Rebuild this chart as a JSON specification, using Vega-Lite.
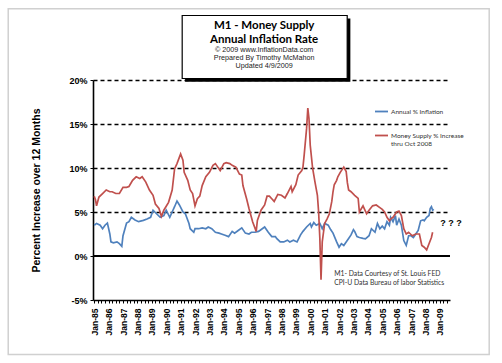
{
  "$schema": "https://vega.github.io/schema/vega-lite/v6.json",
  "width": 357,
  "height": 220,
  "autosize": "none",
  "padding": {"left": 93, "top": 80, "right": 52, "bottom": 63},
  "background": "white",
  "config": {"view": {"stroke": null}},
  "datasets": {
    "series": [
      {"date": "1985-01-01", "series": "Annual % Inflation", "value": 3.5},
      {"date": "1985-03-01", "series": "Annual % Inflation", "value": 3.7},
      {"date": "1985-06-01", "series": "Annual % Inflation", "value": 3.5},
      {"date": "1985-08-01", "series": "Annual % Inflation", "value": 3.1},
      {"date": "1985-10-01", "series": "Annual % Inflation", "value": 3.5},
      {"date": "1985-12-01", "series": "Annual % Inflation", "value": 3.75},
      {"date": "1986-02-01", "series": "Annual % Inflation", "value": 2.5},
      {"date": "1986-03-01", "series": "Annual % Inflation", "value": 1.6},
      {"date": "1986-05-01", "series": "Annual % Inflation", "value": 1.5},
      {"date": "1986-08-01", "series": "Annual % Inflation", "value": 1.6},
      {"date": "1986-10-01", "series": "Annual % Inflation", "value": 1.4},
      {"date": "1986-12-01", "series": "Annual % Inflation", "value": 1.1},
      {"date": "1987-01-01", "series": "Annual % Inflation", "value": 2.3},
      {"date": "1987-04-01", "series": "Annual % Inflation", "value": 3.75},
      {"date": "1987-06-01", "series": "Annual % Inflation", "value": 3.9},
      {"date": "1987-08-01", "series": "Annual % Inflation", "value": 4.4},
      {"date": "1987-11-01", "series": "Annual % Inflation", "value": 4.1},
      {"date": "1988-02-01", "series": "Annual % Inflation", "value": 3.9},
      {"date": "1988-06-01", "series": "Annual % Inflation", "value": 4.05},
      {"date": "1988-09-01", "series": "Annual % Inflation", "value": 4.2},
      {"date": "1988-12-01", "series": "Annual % Inflation", "value": 4.4},
      {"date": "1989-02-01", "series": "Annual % Inflation", "value": 5.2},
      {"date": "1989-05-01", "series": "Annual % Inflation", "value": 4.8},
      {"date": "1989-08-01", "series": "Annual % Inflation", "value": 4.4},
      {"date": "1989-11-01", "series": "Annual % Inflation", "value": 4.6},
      {"date": "1990-01-01", "series": "Annual % Inflation", "value": 5.2},
      {"date": "1990-04-01", "series": "Annual % Inflation", "value": 4.4},
      {"date": "1990-06-01", "series": "Annual % Inflation", "value": 5.0},
      {"date": "1990-08-01", "series": "Annual % Inflation", "value": 5.6},
      {"date": "1990-10-01", "series": "Annual % Inflation", "value": 6.25},
      {"date": "1990-12-01", "series": "Annual % Inflation", "value": 5.8},
      {"date": "1991-03-01", "series": "Annual % Inflation", "value": 5.0},
      {"date": "1991-05-01", "series": "Annual % Inflation", "value": 4.8},
      {"date": "1991-08-01", "series": "Annual % Inflation", "value": 3.7},
      {"date": "1991-09-01", "series": "Annual % Inflation", "value": 3.1},
      {"date": "1991-12-01", "series": "Annual % Inflation", "value": 2.7},
      {"date": "1992-01-01", "series": "Annual % Inflation", "value": 3.1},
      {"date": "1992-04-01", "series": "Annual % Inflation", "value": 3.1},
      {"date": "1992-07-01", "series": "Annual % Inflation", "value": 3.2},
      {"date": "1992-10-01", "series": "Annual % Inflation", "value": 3.1},
      {"date": "1992-12-01", "series": "Annual % Inflation", "value": 3.3},
      {"date": "1993-03-01", "series": "Annual % Inflation", "value": 3.1},
      {"date": "1993-06-01", "series": "Annual % Inflation", "value": 2.7},
      {"date": "1993-09-01", "series": "Annual % Inflation", "value": 2.6},
      {"date": "1993-11-01", "series": "Annual % Inflation", "value": 2.5},
      {"date": "1994-02-01", "series": "Annual % Inflation", "value": 2.35},
      {"date": "1994-05-01", "series": "Annual % Inflation", "value": 2.2},
      {"date": "1994-08-01", "series": "Annual % Inflation", "value": 2.8},
      {"date": "1994-10-01", "series": "Annual % Inflation", "value": 2.6},
      {"date": "1995-01-01", "series": "Annual % Inflation", "value": 2.9},
      {"date": "1995-04-01", "series": "Annual % Inflation", "value": 3.2},
      {"date": "1995-07-01", "series": "Annual % Inflation", "value": 2.6},
      {"date": "1995-10-01", "series": "Annual % Inflation", "value": 2.5},
      {"date": "1995-12-01", "series": "Annual % Inflation", "value": 2.7},
      {"date": "1996-03-01", "series": "Annual % Inflation", "value": 2.7},
      {"date": "1996-06-01", "series": "Annual % Inflation", "value": 2.8},
      {"date": "1996-09-01", "series": "Annual % Inflation", "value": 3.1},
      {"date": "1996-11-01", "series": "Annual % Inflation", "value": 3.3},
      {"date": "1997-02-01", "series": "Annual % Inflation", "value": 2.7},
      {"date": "1997-05-01", "series": "Annual % Inflation", "value": 2.2},
      {"date": "1997-08-01", "series": "Annual % Inflation", "value": 2.2},
      {"date": "1997-09-01", "series": "Annual % Inflation", "value": 2.0},
      {"date": "1997-12-01", "series": "Annual % Inflation", "value": 1.6},
      {"date": "1998-03-01", "series": "Annual % Inflation", "value": 1.6},
      {"date": "1998-06-01", "series": "Annual % Inflation", "value": 1.8},
      {"date": "1998-08-01", "series": "Annual % Inflation", "value": 1.6},
      {"date": "1998-11-01", "series": "Annual % Inflation", "value": 1.8},
      {"date": "1999-02-01", "series": "Annual % Inflation", "value": 1.6},
      {"date": "1999-05-01", "series": "Annual % Inflation", "value": 2.4},
      {"date": "1999-07-01", "series": "Annual % Inflation", "value": 2.8},
      {"date": "1999-10-01", "series": "Annual % Inflation", "value": 3.3},
      {"date": "2000-01-01", "series": "Annual % Inflation", "value": 3.7},
      {"date": "2000-02-01", "series": "Annual % Inflation", "value": 3.3},
      {"date": "2000-04-01", "series": "Annual % Inflation", "value": 3.8},
      {"date": "2000-06-01", "series": "Annual % Inflation", "value": 3.5},
      {"date": "2000-09-01", "series": "Annual % Inflation", "value": 3.7},
      {"date": "2000-11-01", "series": "Annual % Inflation", "value": 3.1},
      {"date": "2001-01-01", "series": "Annual % Inflation", "value": 3.7},
      {"date": "2001-04-01", "series": "Annual % Inflation", "value": 3.5},
      {"date": "2001-06-01", "series": "Annual % Inflation", "value": 3.0},
      {"date": "2001-08-01", "series": "Annual % Inflation", "value": 2.6},
      {"date": "2001-11-01", "series": "Annual % Inflation", "value": 1.6},
      {"date": "2002-01-01", "series": "Annual % Inflation", "value": 1.0},
      {"date": "2002-03-01", "series": "Annual % Inflation", "value": 1.4},
      {"date": "2002-05-01", "series": "Annual % Inflation", "value": 1.2},
      {"date": "2002-07-01", "series": "Annual % Inflation", "value": 1.6},
      {"date": "2002-09-01", "series": "Annual % Inflation", "value": 2.0},
      {"date": "2002-11-01", "series": "Annual % Inflation", "value": 2.4},
      {"date": "2003-01-01", "series": "Annual % Inflation", "value": 3.0},
      {"date": "2003-02-01", "series": "Annual % Inflation", "value": 2.8},
      {"date": "2003-04-01", "series": "Annual % Inflation", "value": 2.2},
      {"date": "2003-06-01", "series": "Annual % Inflation", "value": 2.1},
      {"date": "2003-09-01", "series": "Annual % Inflation", "value": 2.0},
      {"date": "2003-11-01", "series": "Annual % Inflation", "value": 1.95},
      {"date": "2004-02-01", "series": "Annual % Inflation", "value": 2.3},
      {"date": "2004-04-01", "series": "Annual % Inflation", "value": 3.1},
      {"date": "2004-07-01", "series": "Annual % Inflation", "value": 2.7},
      {"date": "2004-09-01", "series": "Annual % Inflation", "value": 3.7},
      {"date": "2004-11-01", "series": "Annual % Inflation", "value": 3.1},
      {"date": "2005-01-01", "series": "Annual % Inflation", "value": 3.4},
      {"date": "2005-03-01", "series": "Annual % Inflation", "value": 3.1},
      {"date": "2005-05-01", "series": "Annual % Inflation", "value": 3.9},
      {"date": "2005-07-01", "series": "Annual % Inflation", "value": 3.5},
      {"date": "2005-08-01", "series": "Annual % Inflation", "value": 4.4},
      {"date": "2005-10-01", "series": "Annual % Inflation", "value": 3.9},
      {"date": "2005-12-01", "series": "Annual % Inflation", "value": 4.6},
      {"date": "2006-01-01", "series": "Annual % Inflation", "value": 3.5},
      {"date": "2006-03-01", "series": "Annual % Inflation", "value": 4.2},
      {"date": "2006-05-01", "series": "Annual % Inflation", "value": 3.5},
      {"date": "2006-07-01", "series": "Annual % Inflation", "value": 1.75},
      {"date": "2006-09-01", "series": "Annual % Inflation", "value": 1.2},
      {"date": "2006-11-01", "series": "Annual % Inflation", "value": 2.3},
      {"date": "2007-01-01", "series": "Annual % Inflation", "value": 2.3},
      {"date": "2007-03-01", "series": "Annual % Inflation", "value": 2.1},
      {"date": "2007-05-01", "series": "Annual % Inflation", "value": 2.5},
      {"date": "2007-07-01", "series": "Annual % Inflation", "value": 2.9},
      {"date": "2007-09-01", "series": "Annual % Inflation", "value": 4.0},
      {"date": "2007-11-01", "series": "Annual % Inflation", "value": 4.1},
      {"date": "2007-12-01", "series": "Annual % Inflation", "value": 4.0},
      {"date": "2008-02-01", "series": "Annual % Inflation", "value": 4.4},
      {"date": "2008-04-01", "series": "Annual % Inflation", "value": 4.6},
      {"date": "2008-05-01", "series": "Annual % Inflation", "value": 5.4},
      {"date": "2008-06-01", "series": "Annual % Inflation", "value": 5.6},
      {"date": "2008-07-01", "series": "Annual % Inflation", "value": 5.2},
      {"date": "2008-08-01", "series": "Annual % Inflation", "value": 5.3},

      {"date": "1985-01-01", "series": "Money Supply % Increase", "value": 6.8},
      {"date": "1985-02-01", "series": "Money Supply % Increase", "value": 6.4},
      {"date": "1985-03-01", "series": "Money Supply % Increase", "value": 5.7},
      {"date": "1985-05-01", "series": "Money Supply % Increase", "value": 6.7},
      {"date": "1985-08-01", "series": "Money Supply % Increase", "value": 7.1},
      {"date": "1985-11-01", "series": "Money Supply % Increase", "value": 7.5},
      {"date": "1986-02-01", "series": "Money Supply % Increase", "value": 7.3},
      {"date": "1986-04-01", "series": "Money Supply % Increase", "value": 7.3},
      {"date": "1986-07-01", "series": "Money Supply % Increase", "value": 7.1},
      {"date": "1986-10-01", "series": "Money Supply % Increase", "value": 7.1},
      {"date": "1987-01-01", "series": "Money Supply % Increase", "value": 7.8},
      {"date": "1987-04-01", "series": "Money Supply % Increase", "value": 7.8},
      {"date": "1987-06-01", "series": "Money Supply % Increase", "value": 7.9},
      {"date": "1987-09-01", "series": "Money Supply % Increase", "value": 8.6},
      {"date": "1987-12-01", "series": "Money Supply % Increase", "value": 9.0},
      {"date": "1988-03-01", "series": "Money Supply % Increase", "value": 8.8},
      {"date": "1988-05-01", "series": "Money Supply % Increase", "value": 9.0},
      {"date": "1988-08-01", "series": "Money Supply % Increase", "value": 8.4},
      {"date": "1988-11-01", "series": "Money Supply % Increase", "value": 7.5},
      {"date": "1989-02-01", "series": "Money Supply % Increase", "value": 6.9},
      {"date": "1989-04-01", "series": "Money Supply % Increase", "value": 5.9},
      {"date": "1989-07-01", "series": "Money Supply % Increase", "value": 5.4},
      {"date": "1989-09-01", "series": "Money Supply % Increase", "value": 4.5},
      {"date": "1989-11-01", "series": "Money Supply % Increase", "value": 5.2},
      {"date": "1990-03-01", "series": "Money Supply % Increase", "value": 6.1},
      {"date": "1990-06-01", "series": "Money Supply % Increase", "value": 7.5},
      {"date": "1990-08-01", "series": "Money Supply % Increase", "value": 9.9},
      {"date": "1990-10-01", "series": "Money Supply % Increase", "value": 10.5},
      {"date": "1991-01-01", "series": "Money Supply % Increase", "value": 11.6},
      {"date": "1991-03-01", "series": "Money Supply % Increase", "value": 10.9},
      {"date": "1991-04-01", "series": "Money Supply % Increase", "value": 9.5},
      {"date": "1991-07-01", "series": "Money Supply % Increase", "value": 8.6},
      {"date": "1991-09-01", "series": "Money Supply % Increase", "value": 7.5},
      {"date": "1991-11-01", "series": "Money Supply % Increase", "value": 7.1},
      {"date": "1992-01-01", "series": "Money Supply % Increase", "value": 5.7},
      {"date": "1992-03-01", "series": "Money Supply % Increase", "value": 6.5},
      {"date": "1992-05-01", "series": "Money Supply % Increase", "value": 6.8},
      {"date": "1992-07-01", "series": "Money Supply % Increase", "value": 8.0},
      {"date": "1992-10-01", "series": "Money Supply % Increase", "value": 9.0},
      {"date": "1993-01-01", "series": "Money Supply % Increase", "value": 9.5},
      {"date": "1993-04-01", "series": "Money Supply % Increase", "value": 10.3},
      {"date": "1993-06-01", "series": "Money Supply % Increase", "value": 10.5},
      {"date": "1993-08-01", "series": "Money Supply % Increase", "value": 10.1},
      {"date": "1993-10-01", "series": "Money Supply % Increase", "value": 9.7},
      {"date": "1994-01-01", "series": "Money Supply % Increase", "value": 10.5},
      {"date": "1994-03-01", "series": "Money Supply % Increase", "value": 10.6},
      {"date": "1994-06-01", "series": "Money Supply % Increase", "value": 10.5},
      {"date": "1994-08-01", "series": "Money Supply % Increase", "value": 10.3},
      {"date": "1994-11-01", "series": "Money Supply % Increase", "value": 10.1},
      {"date": "1995-02-01", "series": "Money Supply % Increase", "value": 9.3},
      {"date": "1995-04-01", "series": "Money Supply % Increase", "value": 9.2},
      {"date": "1995-05-01", "series": "Money Supply % Increase", "value": 8.0},
      {"date": "1995-08-01", "series": "Money Supply % Increase", "value": 6.5},
      {"date": "1995-10-01", "series": "Money Supply % Increase", "value": 5.4},
      {"date": "1996-01-01", "series": "Money Supply % Increase", "value": 3.9},
      {"date": "1996-04-01", "series": "Money Supply % Increase", "value": 2.8},
      {"date": "1996-05-01", "series": "Money Supply % Increase", "value": 4.05},
      {"date": "1996-08-01", "series": "Money Supply % Increase", "value": 5.2},
      {"date": "1996-11-01", "series": "Money Supply % Increase", "value": 5.8},
      {"date": "1997-01-01", "series": "Money Supply % Increase", "value": 6.8},
      {"date": "1997-03-01", "series": "Money Supply % Increase", "value": 6.8},
      {"date": "1997-05-01", "series": "Money Supply % Increase", "value": 6.5},
      {"date": "1997-07-01", "series": "Money Supply % Increase", "value": 6.2},
      {"date": "1997-10-01", "series": "Money Supply % Increase", "value": 7.0},
      {"date": "1998-01-01", "series": "Money Supply % Increase", "value": 6.9},
      {"date": "1998-04-01", "series": "Money Supply % Increase", "value": 6.6},
      {"date": "1998-06-01", "series": "Money Supply % Increase", "value": 7.1},
      {"date": "1998-09-01", "series": "Money Supply % Increase", "value": 7.9},
      {"date": "1998-10-01", "series": "Money Supply % Increase", "value": 7.3},
      {"date": "1999-01-01", "series": "Money Supply % Increase", "value": 8.1},
      {"date": "1999-03-01", "series": "Money Supply % Increase", "value": 9.2},
      {"date": "1999-06-01", "series": "Money Supply % Increase", "value": 9.7},
      {"date": "1999-07-01", "series": "Money Supply % Increase", "value": 10.1},
      {"date": "1999-08-01", "series": "Money Supply % Increase", "value": 11.5},
      {"date": "1999-10-01", "series": "Money Supply % Increase", "value": 14.5},
      {"date": "1999-11-01", "series": "Money Supply % Increase", "value": 16.8},
      {"date": "1999-12-01", "series": "Money Supply % Increase", "value": 15.6},
      {"date": "2000-01-01", "series": "Money Supply % Increase", "value": 12.6},
      {"date": "2000-03-01", "series": "Money Supply % Increase", "value": 10.0},
      {"date": "2000-05-01", "series": "Money Supply % Increase", "value": 8.4},
      {"date": "2000-07-01", "series": "Money Supply % Increase", "value": 6.9},
      {"date": "2000-08-01", "series": "Money Supply % Increase", "value": 5.0},
      {"date": "2000-09-01", "series": "Money Supply % Increase", "value": 2.0},
      {"date": "2000-10-01", "series": "Money Supply % Increase", "value": -2.7},
      {"date": "2000-11-01", "series": "Money Supply % Increase", "value": 1.6},
      {"date": "2001-01-01", "series": "Money Supply % Increase", "value": 3.7},
      {"date": "2001-03-01", "series": "Money Supply % Increase", "value": 4.2},
      {"date": "2001-05-01", "series": "Money Supply % Increase", "value": 4.8},
      {"date": "2001-07-01", "series": "Money Supply % Increase", "value": 6.2},
      {"date": "2001-08-01", "series": "Money Supply % Increase", "value": 7.3},
      {"date": "2001-09-01", "series": "Money Supply % Increase", "value": 8.1},
      {"date": "2001-11-01", "series": "Money Supply % Increase", "value": 8.6},
      {"date": "2001-12-01", "series": "Money Supply % Increase", "value": 9.0},
      {"date": "2002-02-01", "series": "Money Supply % Increase", "value": 9.5},
      {"date": "2002-04-01", "series": "Money Supply % Increase", "value": 9.9},
      {"date": "2002-05-01", "series": "Money Supply % Increase", "value": 10.1},
      {"date": "2002-07-01", "series": "Money Supply % Increase", "value": 9.6},
      {"date": "2002-08-01", "series": "Money Supply % Increase", "value": 8.3},
      {"date": "2002-09-01", "series": "Money Supply % Increase", "value": 7.5},
      {"date": "2002-11-01", "series": "Money Supply % Increase", "value": 7.3},
      {"date": "2003-02-01", "series": "Money Supply % Increase", "value": 6.9},
      {"date": "2003-05-01", "series": "Money Supply % Increase", "value": 6.55},
      {"date": "2003-06-01", "series": "Money Supply % Increase", "value": 5.0},
      {"date": "2003-09-01", "series": "Money Supply % Increase", "value": 5.7},
      {"date": "2003-12-01", "series": "Money Supply % Increase", "value": 4.8},
      {"date": "2004-02-01", "series": "Money Supply % Increase", "value": 5.2},
      {"date": "2004-05-01", "series": "Money Supply % Increase", "value": 5.7},
      {"date": "2004-08-01", "series": "Money Supply % Increase", "value": 5.8},
      {"date": "2004-11-01", "series": "Money Supply % Increase", "value": 5.5},
      {"date": "2005-01-01", "series": "Money Supply % Increase", "value": 5.3},
      {"date": "2005-03-01", "series": "Money Supply % Increase", "value": 5.0},
      {"date": "2005-05-01", "series": "Money Supply % Increase", "value": 4.4},
      {"date": "2005-07-01", "series": "Money Supply % Increase", "value": 4.0},
      {"date": "2005-08-01", "series": "Money Supply % Increase", "value": 4.2},
      {"date": "2005-10-01", "series": "Money Supply % Increase", "value": 4.4},
      {"date": "2006-01-01", "series": "Money Supply % Increase", "value": 5.0},
      {"date": "2006-03-01", "series": "Money Supply % Increase", "value": 5.1},
      {"date": "2006-05-01", "series": "Money Supply % Increase", "value": 4.6},
      {"date": "2006-07-01", "series": "Money Supply % Increase", "value": 3.1},
      {"date": "2006-09-01", "series": "Money Supply % Increase", "value": 2.5},
      {"date": "2006-11-01", "series": "Money Supply % Increase", "value": 2.7},
      {"date": "2007-02-01", "series": "Money Supply % Increase", "value": 2.3},
      {"date": "2007-05-01", "series": "Money Supply % Increase", "value": 2.5},
      {"date": "2007-08-01", "series": "Money Supply % Increase", "value": 2.5},
      {"date": "2007-10-01", "series": "Money Supply % Increase", "value": 1.2},
      {"date": "2007-12-01", "series": "Money Supply % Increase", "value": 1.0},
      {"date": "2008-02-01", "series": "Money Supply % Increase", "value": 0.7},
      {"date": "2008-04-01", "series": "Money Supply % Increase", "value": 1.4},
      {"date": "2008-06-01", "series": "Money Supply % Increase", "value": 2.1},
      {"date": "2008-07-01", "series": "Money Supply % Increase", "value": 2.7}
    ],
    "heading": [
      {"text": "M1 - Money Supply\nAnnual Inflation Rate"}
    ],
    "credits": [
      {"text": "© 2009  www.InflationData.com\nPrepared By Timothy McMahon\nUpdated 4/9/2009"}
    ],
    "notes": [
      {"note": "M1- Data Courtesy of  St. Louis FED\nCPI-U  Data  Bureau of labor Statistics"}
    ],
    "marks": [
      {"note": "? ? ?"}
    ]
  },
  "encoding": {
    "x": {
      "type": "temporal",
      "scale": {"type": "utc", "domain": [{"year": 1984, "month": 12, "date": 1, "utc": true}, {"year": 2009, "month": 9, "date": 15, "utc": true}], "nice": false},
      "axis": {
        "title": null,
        "tickCount": {"interval": "month", "step": 3},
        "labelExpr": "utcmonth(datum.value) == 0 ? utcFormat(datum.value, '%b-%y') : ''",
        "labelAngle": 270,
        "labelAlign": "right",
        "labelBaseline": "middle",
        "labelFont": "Liberation Sans",
        "labelFontSize": 8.5,
        "labelFontWeight": "bold",
        "labelColor": "black",
        "labelPadding": 5,
        "labelOverlap": false,
        "labelFlush": false,
        "labelBound": false,
        "grid": false,
        "domainColor": "black",
        "domainWidth": 1.6,
        "ticks": true,
        "tickColor": "black",
        "tickSize": 3,
        "tickWidth": 1
      }
    },
    "y": {
      "type": "quantitative",
      "scale": {"domain": [-5, 20], "nice": false, "zero": false},
      "axis": {
        "title": "Percent Increase over 12 Months",
        "titleFont": "Liberation Sans",
        "titleFontSize": 10.5,
        "titleFontWeight": "bold",
        "titleColor": "black",
        "titlePadding": 27,
        "values": [-5, 0, 5, 10, 15, 20],
        "labelExpr": "datum.value + '%'",
        "labelFont": "Liberation Sans",
        "labelFontSize": 9,
        "labelFontWeight": "bold",
        "labelColor": "black",
        "labelPadding": 3,
        "domainColor": "black",
        "domainWidth": 1.6,
        "tickColor": "black",
        "tickSize": 3,
        "grid": true,
        "gridColor": "black",
        "gridWidth": 1.4,
        "gridDash": [4, 3],
        "gridOpacity": {"condition": {"test": "datum.value <= 0", "value": 0}, "value": 1}
      }
    }
  },
  "layer": [
    {
      "data": {"name": "marks"},
      "mark": {"type": "rect", "fill": null, "stroke": "#d0d0d0", "strokeWidth": 1.5},
      "encoding": {
        "x": {"datum": {"year": 1979, "month": 1, "date": 12, "utc": true}, "type": "temporal"},
        "x2": {"datum": {"year": 2012, "month": 6, "date": 5, "utc": true}},
        "y": {"datum": 28.1},
        "y2": {"datum": -11.2}
      }
    },
    {
      "data": {"name": "marks"},
      "mark": {"type": "rect", "fill": "black"},
      "encoding": {
        "x": {"datum": {"year": 1991, "month": 4, "date": 25, "utc": true}, "type": "temporal"},
        "x2": {"datum": {"year": 2002, "month": 10, "date": 15, "utc": true}},
        "y": {"datum": 27.0},
        "y2": {"datum": 19.8}
      }
    },
    {
      "data": {"name": "marks"},
      "mark": {"type": "rect", "fill": "white", "stroke": "black", "strokeWidth": 1.2},
      "encoding": {
        "x": {"datum": {"year": 1991, "month": 2, "date": 10, "utc": true}, "type": "temporal"},
        "x2": {"datum": {"year": 2002, "month": 7, "date": 27, "utc": true}},
        "y": {"datum": 27.33},
        "y2": {"datum": 20.17}
      }
    },
    {
      "data": {"name": "heading"},
      "mark": {"type": "text", "align": "center", "baseline": "alphabetic", "font": "Lato", "fontSize": 11.5, "fontWeight": "bold", "color": "black", "lineBreak": "\n", "lineHeight": 14},
      "encoding": {
        "x": {"datum": {"year": 1996, "month": 10, "date": 20, "utc": true}, "type": "temporal"},
        "y": {"datum": 25.85},
        "text": {"field": "text"}
      }
    },
    {
      "data": {"name": "credits"},
      "mark": {"type": "text", "align": "center", "baseline": "alphabetic", "font": "Liberation Sans", "fontSize": 7.2, "color": "#222", "lineBreak": "\n", "lineHeight": 8.2},
      "encoding": {
        "x": {"datum": {"year": 1996, "month": 10, "date": 20, "utc": true}, "type": "temporal"},
        "y": {"datum": 23.17},
        "text": {"field": "text"}
      }
    },
    {
      "data": {"name": "marks"},
      "mark": {"type": "rule", "color": "black", "strokeWidth": 2},
      "encoding": {"y": {"datum": 0}}
    },
    {
      "data": {"name": "series"},
      "mark": {"type": "line", "strokeWidth": 1.7},
      "encoding": {
        "x": {"field": "date", "type": "temporal"},
        "y": {"field": "value", "type": "quantitative"},
        "color": {
          "field": "series",
          "type": "nominal",
          "scale": {"domain": ["Annual % Inflation", "Money Supply % Increase"], "range": ["#4F81BD", "#C0504D"]},
          "legend": {
            "orient": "none",
            "legendX": 281,
            "legendY": 24,
            "direction": "vertical",
            "title": null,
            "symbolType": "stroke",
            "symbolSize": 170,
            "symbolStrokeWidth": 1.8,
            "labelFont": "Lato",
            "labelFontSize": 6.5,
            "labelColor": "#333",
            "labelOffset": 2,
            "rowPadding": 12,
            "labelExpr": "datum.label == 'Money Supply % Increase' ? ['Money Supply % Increase', 'thru Oct 2008'] : datum.label"
          }
        }
      }
    },
    {
      "data": {"name": "notes"},
      "mark": {"type": "text", "align": "left", "baseline": "top", "font": "Lato", "fontSize": 6.8, "color": "#333", "lineBreak": "\n", "lineHeight": 9.5},
      "encoding": {
        "x": {"datum": {"year": 2001, "month": 9, "date": 1, "utc": true}, "type": "temporal"},
        "y": {"datum": -1.65},
        "text": {"field": "note"}
      }
    },
    {
      "data": {"name": "marks"},
      "mark": {"type": "text", "align": "left", "baseline": "middle", "font": "Liberation Sans", "fontSize": 9, "fontWeight": "bold", "color": "black"},
      "encoding": {
        "x": {"datum": {"year": 2009, "month": 1, "date": 10, "utc": true}, "type": "temporal"},
        "y": {"datum": 3.8},
        "text": {"field": "note"}
      }
    }
  ]
}
